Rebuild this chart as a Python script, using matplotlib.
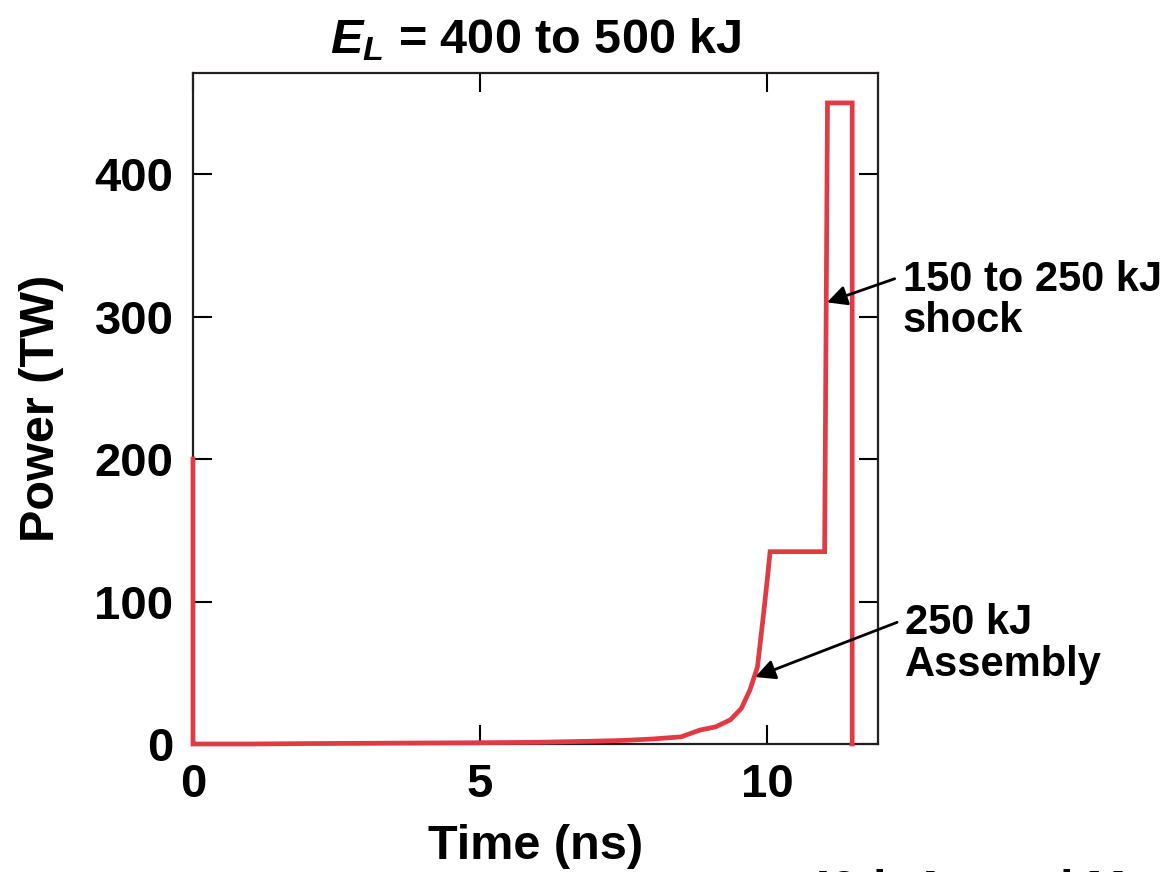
import matplotlib
matplotlib.use("Agg")
import matplotlib.pyplot as plt

# ---- data ----
time_ns = [0.0, 0.0, 0.05, 1.0, 2.0, 3.0, 4.0, 5.0, 6.0, 7.0, 7.5, 8.0, 8.5, 8.83,
           9.1, 9.36, 9.55, 9.7, 9.83, 9.93, 10.0, 10.05, 10.5, 11.0, 11.05, 11.48, 11.48]
power_tw = [200, 0, 0, 0, 0.3, 0.5, 0.7, 0.9, 1.2, 2.0, 2.5, 3.5, 5.0, 9.8,
            12, 17, 25, 38, 54, 89, 115, 135, 135, 135, 450, 450, 0]
x_ticks = [0, 5, 10]
y_ticks = [0, 100, 200, 300, 400]
title = r"$E_L$ = 400 to 500 kJ"
ann_shock = "150 to 250 kJ\nshock"
ann_assembly = "250 kJ\nAssembly"

plt.rcParams['font.family'] = ['Liberation Sans', 'DejaVu Sans']
plt.rcParams['font.weight'] = 'bold'
plt.rcParams['mathtext.fontset'] = 'custom'
plt.rcParams['mathtext.it'] = 'Liberation Sans:italic:bold'
plt.rcParams['mathtext.rm'] = 'Liberation Sans:bold'

fig = plt.figure(figsize=(11.69, 8.72), dpi=100)
ax = fig.add_axes([0.1651, 0.1468, 0.586, 0.7695])

red = '#e03a44'
ax.plot(time_ns, power_tw, color=red, lw=3.4, clip_on=False, zorder=3,
        solid_joinstyle='miter')

ax.set_xlim(0, 11.93)
ax.set_ylim(0, 471)
ax.set_xticks(x_ticks)
ax.set_yticks(y_ticks)
ax.tick_params(direction='in', length=14, width=1.5, top=True, right=True,
               labelsize=34, pad=14)
for lab in ax.get_xticklabels() + ax.get_yticklabels():
    lab.set_fontweight('bold')
for s in ax.spines.values():
    s.set_linewidth(1.6)
    s.set_color('#231f20')

ax.set_xlabel("Time (ns)", fontsize=35, fontweight='bold', labelpad=12)
ax.set_ylabel("Power (TW)", fontsize=35, fontweight='bold', labelpad=22)
ax.set_title(title, fontsize=35, fontweight='bold', pad=14)

ax.annotate(ann_shock, xy=(11.04, 310), xytext=(12.36, 340),
            fontsize=30, fontweight='bold', va='top', ha='left',
            annotation_clip=False, linespacing=1.05,
            arrowprops=dict(arrowstyle='-|>', color='black', lw=2,
                            mutation_scale=30, shrinkA=4, shrinkB=0,
                            relpos=(0, 0.8)))
ax.annotate(ann_assembly, xy=(9.79, 47), xytext=(12.4, 99),
            fontsize=30, fontweight='bold', va='top', ha='left',
            annotation_clip=False, linespacing=1.05,
            arrowprops=dict(arrowstyle='-|>', color='black', lw=2,
                            mutation_scale=30, shrinkA=4, shrinkB=0,
                            relpos=(0, 0.8)))

fig.text(0.689, 0.004, "49th Annual Meeting", fontsize=34, fontweight='bold',
         va='top', ha='left')

fig.savefig("out.png", dpi=100)
